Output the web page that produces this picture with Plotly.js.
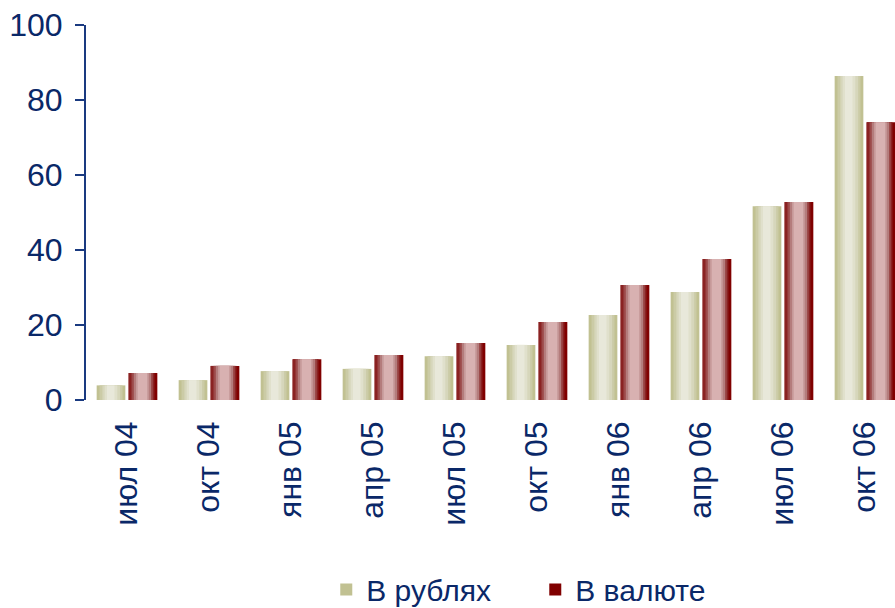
<!DOCTYPE html>
<html>
<head>
<meta charset="utf-8">
<script src="https://cdn.plot.ly/plotly-3.0.1.min.js"></script>
<style>html,body{margin:0;padding:0;background:#fff;}#chart{width:895px;height:608px;}</style>
</head>
<body>
<div id="chart"></div>
<script>
const categories = ['июл 04','окт 04','янв 05','апр 05','июл 05','окт 05','янв 06','апр 06','июл 06','окт 06'];
const rubles = [3.9, 5.3, 7.7, 8.3, 11.7, 14.7, 22.7, 28.8, 51.7, 86.4];
const currency = [7.2, 9.1, 10.9, 12.0, 15.2, 20.8, 30.7, 37.6, 52.8, 74.1];
const seriesNames = ['В рублях', 'В валюте'];
const yTicks = [0, 20, 40, 60, 80, 100];

const NAVY = '#0a2868';
const FONT = 'Liberation Sans, Arial, sans-serif';
const W = 0.35;

// stripe layers: [leftFrac, rightFrac, color]
const rubStripes = [
  [0.00, 1.00, '#c1c192'],
  [0.10, 0.90, '#cbcba6'],
  [0.20, 0.82, '#d6d6bb'],
  [0.28, 0.72, '#e0e0cc'],
  [0.36, 0.62, '#e8e8da']
];
const curStripes = [
  [0.00, 1.00, '#800000'],
  [0.00, 0.90, '#8a2222'],
  [0.10, 0.84, '#9c4a4a'],
  [0.18, 0.78, '#b47c7c'],
  [0.26, 0.70, '#c99d9d'],
  [0.32, 0.64, '#d8b1b1']
];

function layered(vals, name, left, stripes, showLegend) {
  return stripes.map((s, i) => ({
    type: 'bar',
    x: categories,
    y: vals,
    name: name,
    legendgroup: name,
    showlegend: showLegend && i === 0,
    offset: left + s[0] * W,
    width: (s[1] - s[0]) * W,
    marker: {color: s[2], line: {width: 0}},
    hoverinfo: 'skip'
  }));
}

const traces = [].concat(
  layered(rubles, seriesNames[0], -0.37, rubStripes, true),
  layered(currency, seriesNames[1], 0.02, curStripes, true)
);

const layout = {
  width: 895, height: 608,
  margin: {l: 86, r: 0, t: 25, b: 208, pad: 0, autoexpand: false},
  paper_bgcolor: '#ffffff', plot_bgcolor: '#ffffff',
  barmode: 'overlay',
  font: {family: FONT, color: NAVY},
  xaxis: {
    type: 'category',
    range: [-0.5, 9.366],
    showline: false, showgrid: false, zeroline: false,
    ticks: '',
    tickangle: -90,
    tickfont: {family: FONT, size: 32, color: NAVY},
    ticklabelstandoff: 14,
    automargin: false
  },
  yaxis: {
    range: [0, 100],
    tickvals: yTicks,
    ticktext: yTicks.map(String),
    showline: true, linecolor: '#1a3a80', linewidth: 2,
    ticks: 'outside', ticklen: 9, tickwidth: 2, tickcolor: '#1a3a80',
    showgrid: false, zeroline: false,
    tickfont: {family: FONT, size: 32, color: NAVY},
    ticklabelstandoff: 6,
    automargin: false
  },
  showlegend: true,
  legend: {
    orientation: 'h',
    x: 0.297, xanchor: 'left',
    y: -0.505, yanchor: 'middle',
    font: {family: FONT, size: 30, color: NAVY},
    entrywidth: 164, entrywidthmode: 'pixels',
    tracegroupgap: 0,
    bgcolor: 'rgba(0,0,0,0)'
  }
};

Plotly.newPlot('chart', traces, layout, {displayModeBar: false, staticPlot: true});
</script>
</body>
</html>
